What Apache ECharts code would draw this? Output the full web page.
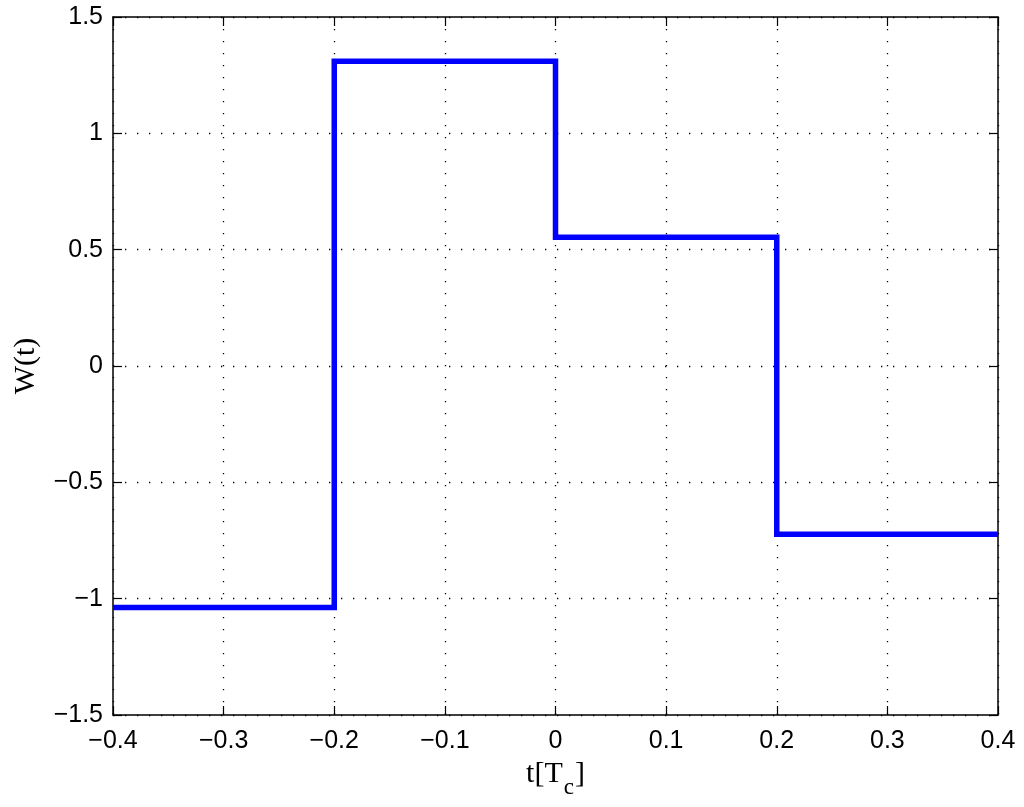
<!DOCTYPE html>
<html>
<head>
<meta charset="utf-8">
<script src="https://cdn.jsdelivr.net/npm/echarts@6/dist/echarts.min.js"></script>
<style>
html,body{margin:0;padding:0;background:#fff;}
#chart{width:1024px;height:807px;}
</style>
</head>
<body>
<div id="chart"></div>
<script>
// Step boundaries (t in Tc) and the level held on each interval
const tBreaks = [-0.4, -0.2, 0, 0.2, 0.4];
const levels = [-1.038, 1.31, 0.553, -0.723];
const xTicks = [-0.4, -0.3, -0.2, -0.1, 0, 0.1, 0.2, 0.3, 0.4];
const yTicks = [-1.5, -1, -0.5, 0, 0.5, 1, 1.5];

const points = tBreaks.map((t, i) => [t, levels[Math.min(i, levels.length - 1)]]);

function fmt(v) {
  const r = Math.round(v * 10) / 10;
  if (r === 0) return '0';
  return String(r).replace('-', '\u2212');
}

const chart = echarts.init(document.getElementById('chart'));
const tickFont = { fontFamily: 'Liberation Sans, Arial, sans-serif', fontSize: 25, color: '#000' };
const dotted = { color: '#000', width: 1.3, type: [1.3, 10.7] };

chart.setOption({
  animation: false,
  backgroundColor: '#fff',
  grid: { left: 113, right: 26, top: 17, bottom: 92, show: false },
  xAxis: [{
    type: 'value', min: xTicks[0], max: xTicks[xTicks.length - 1], interval: 0.1,
    position: 'bottom',
    axisLine: { onZero: false, lineStyle: { color: '#000', width: 1.5 } },
    axisTick: { inside: true, length: 9, lineStyle: { color: '#000', width: 1.2 } },
    axisLabel: Object.assign({ formatter: fmt, margin: 14 }, tickFont),
    splitLine: { show: true, lineStyle: dotted },
    name: '{a|t[T}{s|c}{a|]}', nameLocation: 'middle', nameGap: 34,
    nameTextStyle: {
      rich: {
        a: { fontFamily: 'Liberation Serif, Times New Roman, serif', fontSize: 30, color: '#000', lineHeight: 32, verticalAlign: 'top' },
        s: { fontFamily: 'Liberation Serif, Times New Roman, serif', fontSize: 23, color: '#000', lineHeight: 24, padding: [18, 1, 0, 1], verticalAlign: 'top' }
      }
    }
  }, {
    type: 'value', min: xTicks[0], max: xTicks[xTicks.length - 1], interval: 0.1,
    position: 'top',
    axisLine: { onZero: false, lineStyle: { color: '#000', width: 1.5 } },
    axisTick: { inside: true, length: 9, lineStyle: { color: '#000', width: 1.2 } },
    axisLabel: { show: false },
    splitLine: { show: false }
  }],
  yAxis: [{
    type: 'value', min: yTicks[0], max: yTicks[yTicks.length - 1], interval: 0.5,
    position: 'left',
    axisLine: { onZero: false, show: true, lineStyle: { color: '#000', width: 1.5 } },
    axisTick: { show: true, inside: true, length: 9, lineStyle: { color: '#000', width: 1.2 } },
    axisLabel: Object.assign({ formatter: fmt, margin: 10 }, tickFont),
    splitLine: { show: true, lineStyle: dotted },
    name: 'W(t)', nameLocation: 'middle', nameRotate: 90, nameGap: 72,
    nameTextStyle: { fontFamily: 'Liberation Serif, Times New Roman, serif', fontSize: 30, color: '#000' }
  }, {
    type: 'value', min: yTicks[0], max: yTicks[yTicks.length - 1], interval: 0.5,
    position: 'right',
    axisLine: { onZero: false, show: true, lineStyle: { color: '#000', width: 1.5 } },
    axisTick: { show: true, inside: true, length: 9, lineStyle: { color: '#000', width: 1.2 } },
    axisLabel: { show: false },
    splitLine: { show: false }
  }],
  series: [{
    type: 'line',
    step: 'end',
    data: points,
    xAxisIndex: 0, yAxisIndex: 0,
    showSymbol: false,
    lineStyle: { color: '#0000ff', width: 5.5, join: 'miter' },
    z: 5
  }]
});
</script>
</body>
</html>
